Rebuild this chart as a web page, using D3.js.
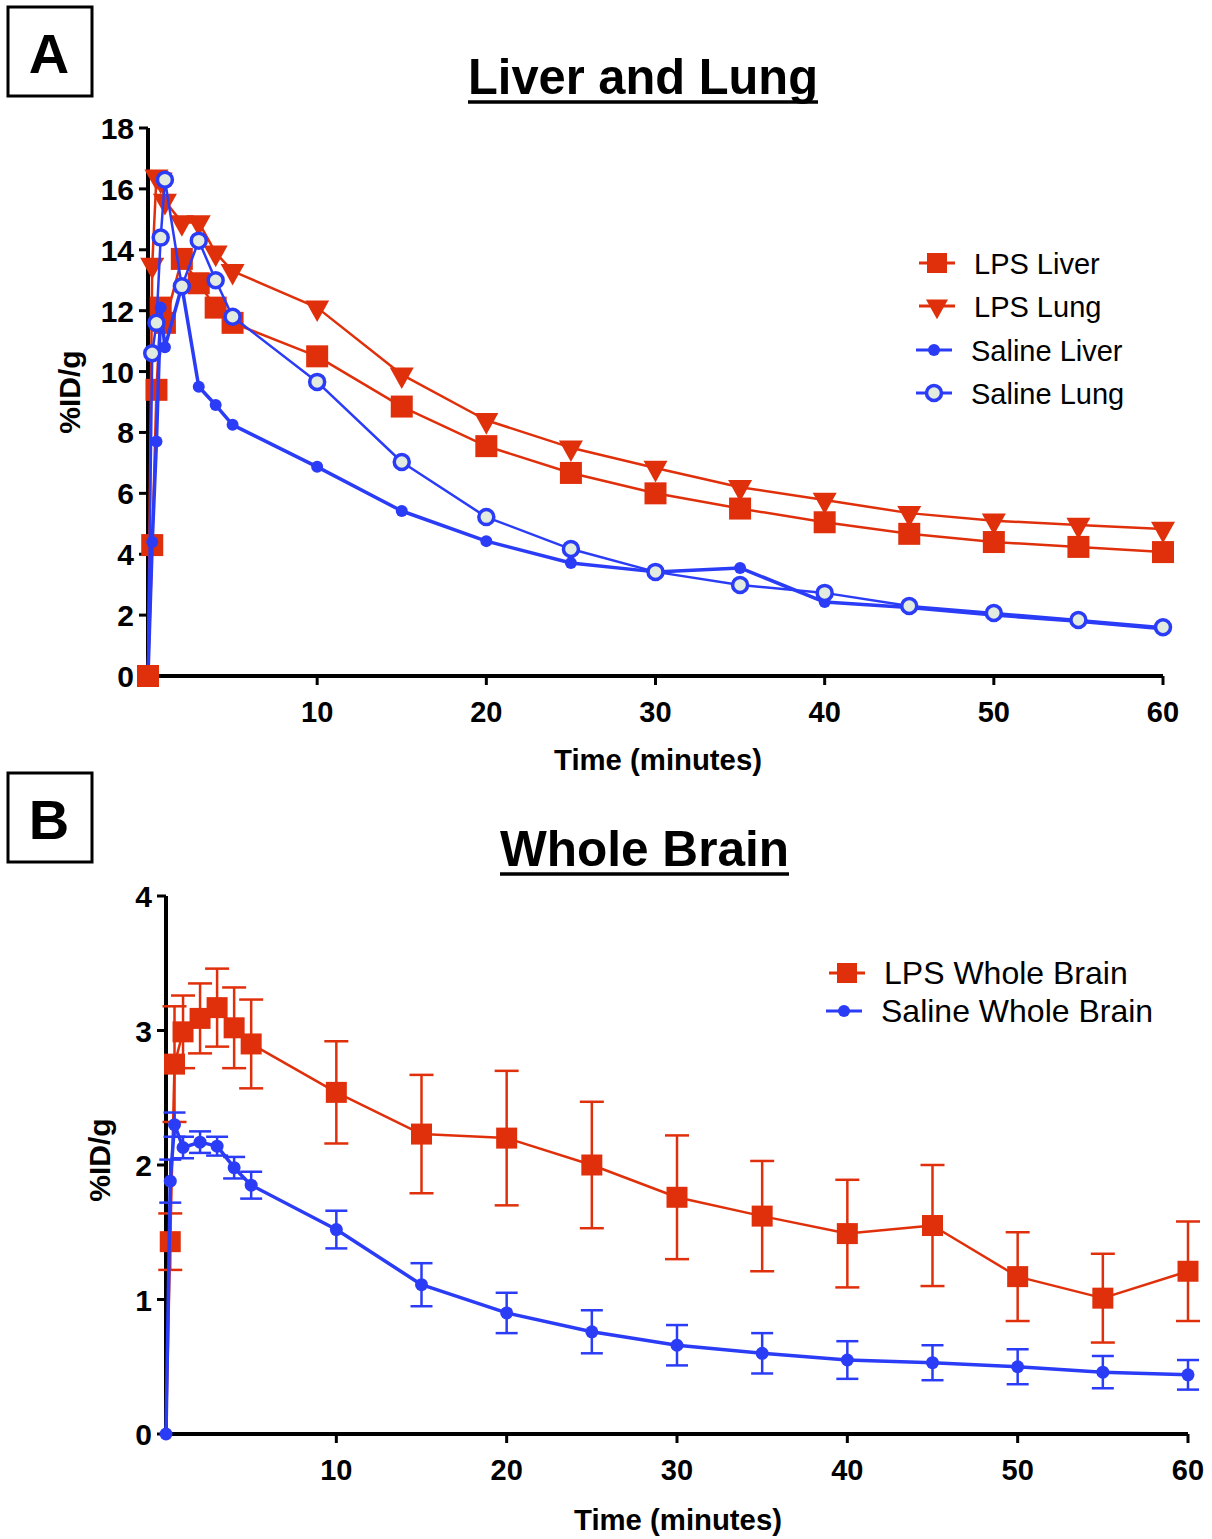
<!DOCTYPE html>
<html>
<head>
<meta charset="utf-8">
<script src="https://cdn.jsdelivr.net/npm/d3@7"></script>
<style>
  body { margin: 0; background: #fff; }
  text { font-family: "Liberation Sans", Arial, sans-serif; }
</style>
</head>
<body>
<svg id="chart" width="1212" height="1539"></svg>
<script>
// ---- data ----
var timesA = [0, 0.25, 0.5, 0.75, 1, 2, 3, 4, 5, 10, 15, 20, 25, 30, 35, 40, 45, 50, 55, 60];
var lpsLiver = [0, 4.3, 9.4, 12.1, 11.6, 13.7, 12.9, 12.1, 11.6, 10.5, 8.85, 7.55, 6.67, 6.0, 5.5, 5.05, 4.67, 4.4, 4.24, 4.07];
var lpsLung = [0, 13.5, 16.4, 16.3, 15.6, 14.9, 14.9, 13.9, 13.3, 12.1, 9.9, 8.4, 7.5, 6.83, 6.2, 5.78, 5.35, 5.1, 4.96, 4.83];
var salineLiver = [0, 4.4, 7.7, 12.1, 10.8, 12.8, 9.5, 8.9, 8.25, 6.87, 5.42, 4.43, 3.71, 3.42, 3.55, 2.43, 2.25, 2.0, 1.8, 1.55];
var salineLung = [0, 10.6, 11.6, 14.4, 16.3, 12.8, 14.3, 13.0, 11.8, 9.66, 7.03, 5.22, 4.17, 3.42, 2.99, 2.73, 2.3, 2.07, 1.84, 1.6];

var timesB = [0, 0.25, 0.5, 1, 2, 3, 4, 5, 10, 15, 20, 25, 30, 35, 40, 45, 50, 55, 60];
var lpsBrain = [0, 1.43, 2.75, 2.99, 3.09, 3.17, 3.02, 2.9, 2.54, 2.23, 2.2, 2.0, 1.76, 1.62, 1.49, 1.55, 1.17, 1.01, 1.21];
var lpsBrainSem = [0, 0.21, 0.43, 0.27, 0.26, 0.29, 0.3, 0.33, 0.38, 0.44, 0.5, 0.47, 0.46, 0.41, 0.4, 0.45, 0.33, 0.33, 0.37];
var salineBrain = [0, 1.88, 2.3, 2.13, 2.17, 2.14, 1.98, 1.85, 1.52, 1.11, 0.9, 0.76, 0.66, 0.6, 0.55, 0.53, 0.5, 0.46, 0.44];
var salineBrainSem = [0, 0.16, 0.09, 0.08, 0.08, 0.07, 0.08, 0.1, 0.14, 0.16, 0.15, 0.16, 0.15, 0.15, 0.14, 0.13, 0.13, 0.12, 0.11];

var xTicks = [10, 20, 30, 40, 50, 60];
var yTicksA = [0, 2, 4, 6, 8, 10, 12, 14, 16, 18];
var yTicksB = [0, 1, 2, 3, 4];

var RED = "#e0300b", BLUE = "#2b3cf7", OPEN = "#e2ebe0";

var svg = d3.select("#chart");
svg.append("rect").attr("width", 1212).attr("height", 1539).attr("fill", "#fff");

function zip(t, v, s) { return t.map(function (d, i) { return { t: d, v: v[i], s: s ? s[i] : 0 }; }); }
function notZero(d) { return d.t > 0; }
function isZero(d) { return d.t === 0; }

// panel letter box + underlined title
function header(letter, boxY, title, tx0, tx1, baseY) {
  svg.append("rect").attr("x", 8).attr("y", boxY).attr("width", 84).attr("height", 89)
    .attr("fill", "none").attr("stroke", "#000").attr("stroke-width", 3);
  svg.append("text").attr("x", 49).attr("y", boxY + 66).attr("text-anchor", "middle")
    .attr("font-size", 56).attr("font-weight", "bold").text(letter);
  svg.append("text").attr("x", tx0).attr("y", baseY).attr("font-size", 50).attr("font-weight", "bold")
    .attr("textLength", tx1 - tx0).attr("lengthAdjust", "spacingAndGlyphs").text(title);
  svg.append("line").attr("x1", tx0).attr("x2", tx1).attr("y1", baseY + 8).attr("y2", baseY + 8)
    .attr("stroke", "#000").attr("stroke-width", 3.5);
}

function axes(g, x, y, yTicks, yLabelX, yLabelY, xTitleY, xTitleX) {
  var x0 = x(0), y0 = y(0);
  g.append("line").attr("x1", x0).attr("x2", x(60)).attr("y1", y0).attr("y2", y0)
    .attr("stroke", "#000").attr("stroke-width", 4);
  g.append("line").attr("x1", x0).attr("x2", x0).attr("y1", y0 + 2).attr("y2", y(d3.max(yTicks)))
    .attr("stroke", "#000").attr("stroke-width", 4);
  g.selectAll(".yt").data(yTicks).enter().append("line")
    .attr("x1", x0 - 9).attr("x2", x0).attr("y1", function (d) { return y(d); }).attr("y2", function (d) { return y(d); })
    .attr("stroke", "#000").attr("stroke-width", 3);
  g.selectAll(".yl").data(yTicks).enter().append("text")
    .attr("x", x0 - 14).attr("y", function (d) { return y(d) + 11; })
    .attr("text-anchor", "end").attr("font-size", 30).attr("font-weight", "bold")
    .text(function (d) { return d; });
  g.selectAll(".xt").data(xTicks).enter().append("line")
    .attr("x1", function (d) { return x(d); }).attr("x2", function (d) { return x(d); })
    .attr("y1", y0).attr("y2", y0 + 9).attr("stroke", "#000").attr("stroke-width", 3);
  g.selectAll(".xl").data(xTicks).enter().append("text")
    .attr("x", function (d) { return x(d); }).attr("y", y0 + 46)
    .attr("text-anchor", "middle").attr("font-size", 29).attr("font-weight", "bold")
    .text(function (d) { return d; });
  g.append("text").attr("x", xTitleX).attr("y", xTitleY).attr("text-anchor", "middle")
    .attr("font-size", 30).attr("font-weight", "bold").attr("textLength", 208).attr("lengthAdjust", "spacingAndGlyphs")
    .text("Time (minutes)");
  g.append("text").attr("transform", "translate(" + yLabelX + "," + yLabelY + ") rotate(-90)")
    .attr("text-anchor", "middle").attr("font-size", 30).attr("font-weight", "bold").text("%ID/g");
}

function drawLine(g, x, y, data, color, w) {
  var line = d3.line().x(function (d) { return x(d.t); }).y(function (d) { return y(d.v); });
  g.append("path").datum(data).attr("d", line).attr("fill", "none")
    .attr("stroke", color).attr("stroke-width", w).attr("stroke-linejoin", "round");
}

function squares(g, x, y, data, s) {
  g.selectAll(null).data(data).enter().append("rect")
    .attr("x", function (d) { return x(d.t) - s / 2; }).attr("y", function (d) { return y(d.v) - s / 2; })
    .attr("width", s).attr("height", s).attr("fill", RED);
}
function triangles(g, x, y, data, s) {
  var h = s * 0.9;
  g.selectAll(null).data(data).enter().append("path")
    .attr("transform", function (d) { return "translate(" + x(d.t) + "," + y(d.v) + ")"; })
    .attr("d", "M" + (-s / 2) + "," + (-h / 3) + "L" + (s / 2) + "," + (-h / 3) + "L0," + (2 * h / 3) + "Z")
    .attr("fill", RED);
}
function dots(g, x, y, data, r) {
  g.selectAll(null).data(data).enter().append("circle")
    .attr("cx", function (d) { return x(d.t); }).attr("cy", function (d) { return y(d.v); })
    .attr("r", r).attr("fill", BLUE);
}
function rings(g, x, y, data, r) {
  g.selectAll(null).data(data).enter().append("circle")
    .attr("cx", function (d) { return x(d.t); }).attr("cy", function (d) { return y(d.v); })
    .attr("r", r).attr("fill", OPEN).attr("stroke", BLUE).attr("stroke-width", 3.5);
}
function errorBars(g, x, y, data, color, cap) {
  var eb = g.selectAll(null).data(data.filter(function (d) { return d.s > 0; })).enter().append("g")
    .attr("stroke", color).attr("stroke-width", 2.5);
  eb.append("line").attr("x1", function (d) { return x(d.t); }).attr("x2", function (d) { return x(d.t); })
    .attr("y1", function (d) { return y(d.v + d.s); }).attr("y2", function (d) { return y(d.v - d.s); });
  [1, -1].forEach(function (k) {
    eb.append("line").attr("x1", function (d) { return x(d.t) - cap / 2; }).attr("x2", function (d) { return x(d.t) + cap / 2; })
      .attr("y1", function (d) { return y(d.v + k * d.s); }).attr("y2", function (d) { return y(d.v + k * d.s); });
  });
}

function legendItem(g, lx, ly, color, label, kind, fs) {
  g.append("line").attr("x1", lx - 18).attr("x2", lx + 18).attr("y1", ly).attr("y2", ly)
    .attr("stroke", color).attr("stroke-width", 3);
  var fake = [{ t: 0, v: 0 }], ix = function () { return lx; }, iy = function () { return ly; };
  if (kind === "sq") squares(g, ix, iy, fake, 20);
  if (kind === "tri") triangles(g, ix, iy, fake, 22);
  if (kind === "dot") dots(g, ix, iy, fake, 6);
  if (kind === "ring") rings(g, ix, iy, fake, 7.5);
  g.append("text").attr("x", lx + 37).attr("y", ly + 11).attr("font-size", fs).attr("fill", "#000").text(label);
}

// ---------- Panel A ----------
header("A", 7, "Liver and Lung", 468, 818, 94);
var gA = svg.append("g");
var xA = d3.scaleLinear().domain([0, 60]).range([148, 1163]);
var yA = d3.scaleLinear().domain([0, 18]).range([676, 128]);
axes(gA, xA, yA, yTicksA, 80, 392, 770, 658);

var dLL = zip(timesA, lpsLiver), dLG = zip(timesA, lpsLung),
    dSL = zip(timesA, salineLiver), dSG = zip(timesA, salineLung);
drawLine(gA, xA, yA, dLL, RED, 2.5);
drawLine(gA, xA, yA, dLG, RED, 2.5);
squares(gA, xA, yA, dLL.filter(notZero), 22);
triangles(gA, xA, yA, dLG.filter(notZero), 24);
drawLine(gA, xA, yA, dSL, BLUE, 3.5);
drawLine(gA, xA, yA, dSG, BLUE, 2.5);
dots(gA, xA, yA, dSL.filter(notZero), 6);
rings(gA, xA, yA, dSG.filter(notZero), 7.5);
squares(gA, xA, yA, dLL.filter(isZero), 22);

legendItem(gA, 937, 263, RED, "LPS Liver", "sq", 29);
legendItem(gA, 937, 306, RED, "LPS  Lung", "tri", 29);
legendItem(gA, 934, 350, BLUE, "Saline Liver", "dot", 29);
legendItem(gA, 934, 393, BLUE, "Saline Lung", "ring", 29);

// ---------- Panel B ----------
header("B", 773, "Whole Brain", 500, 789, 866);
var gB = svg.append("g");
var xB = d3.scaleLinear().domain([0, 60]).range([166, 1188]);
var yB = d3.scaleLinear().domain([0, 4]).range([1434, 896]);
axes(gB, xB, yB, yTicksB, 110, 1160, 1530, 678);

var dLB = zip(timesB, lpsBrain, lpsBrainSem), dSB = zip(timesB, salineBrain, salineBrainSem);
errorBars(gB, xB, yB, dLB, RED, 24);
drawLine(gB, xB, yB, dLB, RED, 2.5);
squares(gB, xB, yB, dLB.filter(notZero), 21);
errorBars(gB, xB, yB, dSB, BLUE, 22);
drawLine(gB, xB, yB, dSB, BLUE, 3.5);
dots(gB, xB, yB, dSB, 6.5);

legendItem(gB, 847, 973, RED, "LPS Whole Brain", "sq", 32);
legendItem(gB, 844, 1011, BLUE, "Saline Whole Brain", "dot", 32);
</script>
</body>
</html>
